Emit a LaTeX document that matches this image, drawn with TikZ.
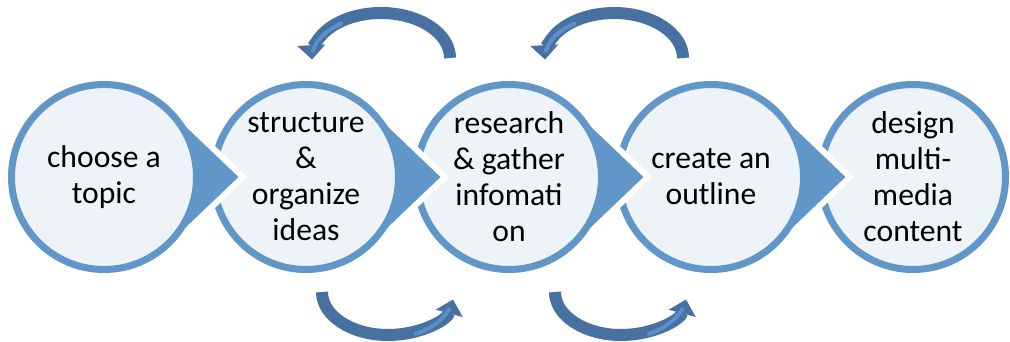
\documentclass[tikz,border=0pt]{standalone}
\usepackage{fontspec}
\setmainfont{Carlito}
\usetikzlibrary{arrows.meta,calc}

\definecolor{ringblue}{RGB}{96,150,200}
\definecolor{stagefill}{RGB}{238,243,248}
\definecolor{cycleblue}{RGB}{70,113,161}
\definecolor{cyclelight}{RGB}{92,142,200}

\begin{document}
\begin{tikzpicture}[x=0.25mm,y=0.25mm,
  stage/.style={circle,draw=ringblue,fill=stagefill,line width=1.75mm,
    minimum size=46.25mm,inner sep=0pt,align=center,
    font=\fontsize{22.5}{25.6}\selectfont},
  stagetip/.style={fill=ringblue,draw=white,line width=1.5mm},
  cyclearrow/.style={draw=cycleblue,line width=3mm,
    -{Triangle[length=3.6mm,width=6.8mm]}},
  cycleshine/.style={draw=cyclelight,line width=1mm,line cap=round}]
\useasboundingbox (0,0) rectangle (1010,341);
\coordinate (p1) at (104,164);
\coordinate (p2) at (306,164);
\coordinate (p3) at (509,164);
\coordinate (p4) at (711,164);
\coordinate (p5) at (913,164);
% right to left, so each tip lies over the next circle
\node[stage] (s5) at (p5) {design\\multi-\\media\\content};
\filldraw[stagetip] ($(p4)+(139,0)$) -- ($(p4)+(46.3:96)$)
  arc[start angle=46.3,end angle=313.7,radius=96] -- cycle;
\node[stage] (s4) at (p4) {create an\\outline};
\filldraw[stagetip] ($(p3)+(139,0)$) -- ($(p3)+(46.3:96)$)
  arc[start angle=46.3,end angle=313.7,radius=96] -- cycle;
\node[stage] (s3) at (p3) {research\\\& gather\\infomati\\on};
\filldraw[stagetip] ($(p2)+(139,0)$) -- ($(p2)+(46.3:96)$)
  arc[start angle=46.3,end angle=313.7,radius=96] -- cycle;
\node[stage] (s2) at (p2) {structure\\\&\\organize\\ideas};
\filldraw[stagetip] ($(p1)+(139,0)$) -- ($(p1)+(46.3:96)$)
  arc[start angle=46.3,end angle=313.7,radius=96] -- cycle;
\node[stage] (s1) at (p1) {choose a\\topic};
% loops back and forth
\coordinate (back1) at (450,283);
\coordinate (back2) at (683,283);
\coordinate (fwd1) at (322,49);
\coordinate (fwd2) at (555,49);
\draw[cyclearrow] (back1) arc[start angle=0,end angle=182,x radius=69,y radius=45];
\draw[cyclearrow] (back2) arc[start angle=0,end angle=182,x radius=69,y radius=45];
\draw[cyclearrow] (fwd1) arc[start angle=180,end angle=350,x radius=66,y radius=43];
\draw[cyclearrow] (fwd2) arc[start angle=180,end angle=350,x radius=66,y radius=43];
% lighter streak along the inner side near the heads
\draw[cycleshine] ($(back1)+(-69,0)+(125:69 and 42)$)
  arc[start angle=125,end angle=170,x radius=69,y radius=42];
\draw[cycleshine] ($(back2)+(-69,0)+(125:69 and 42)$)
  arc[start angle=125,end angle=170,x radius=69,y radius=42];
\draw[cycleshine] ($(fwd1)+(66,0)+(295:66 and 46)$)
  arc[start angle=295,end angle=338,x radius=66,y radius=46];
\draw[cycleshine] ($(fwd2)+(66,0)+(295:66 and 46)$)
  arc[start angle=295,end angle=338,x radius=66,y radius=46];
\end{tikzpicture}
\end{document}
